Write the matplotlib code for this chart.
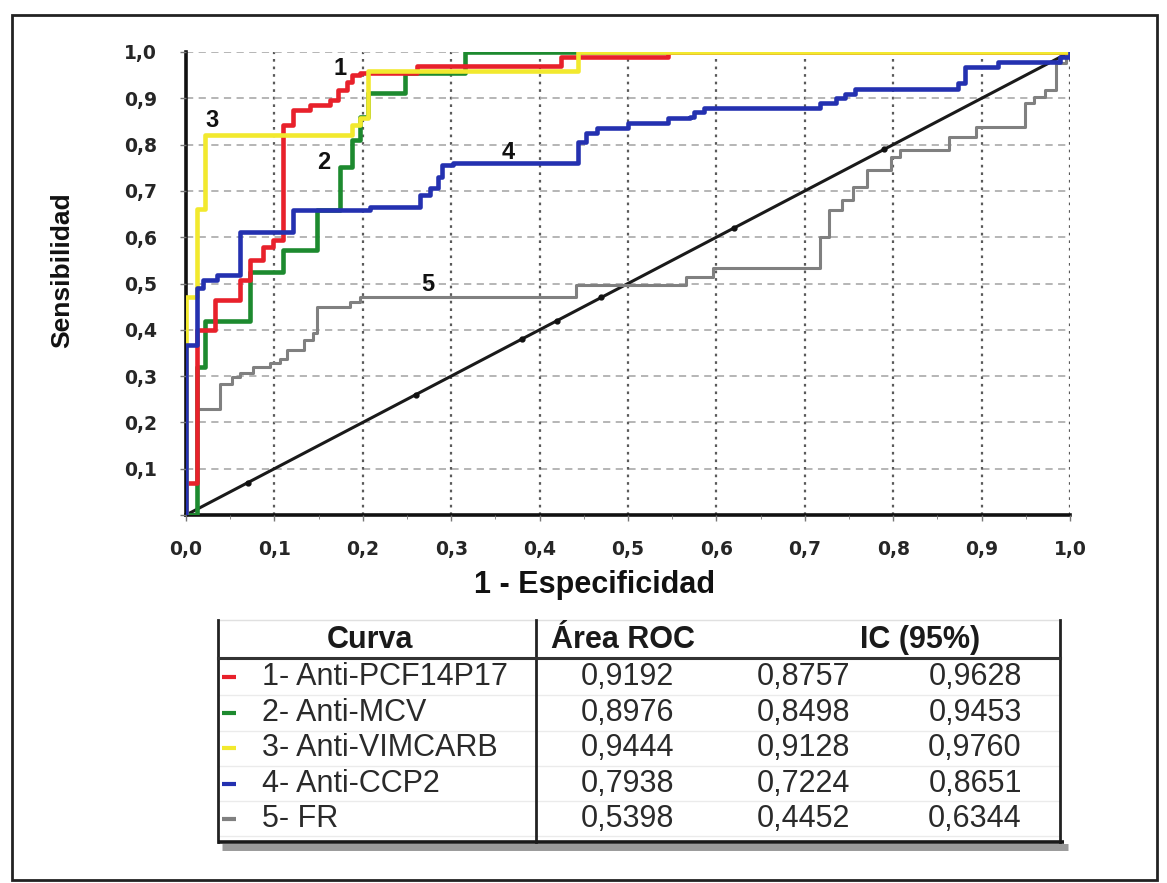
import numpy as np
import matplotlib
matplotlib.use("Agg")
import matplotlib.pyplot as plt
from matplotlib.patches import Rectangle

# ====================== DATA ======================
# ROC curves as step corners: each point = (x where the horizontal run ends, level)
red_x = [0, 0.012, 0.033, 0.061, 0.072, 0.087, 0.098, 0.110, 0.121, 0.140, 0.163, 0.172,
         0.182, 0.188, 0.197, 0.261, 0.424, 0.545, 1.0]
red_y = [0, 0.07, 0.40, 0.464, 0.507, 0.551, 0.579, 0.594, 0.842, 0.875, 0.885, 0.896,
         0.918, 0.935, 0.95, 0.955, 0.97, 0.989, 1.0]

green_x = [0, 0.012, 0.022, 0.072, 0.110, 0.148, 0.174, 0.188, 0.197, 0.206, 0.248, 0.316, 1.0]
green_y = [0, 0.0, 0.32, 0.42, 0.525, 0.572, 0.658, 0.752, 0.81, 0.86, 0.911, 0.955, 1.0]

yellow_x = [0, 0.012, 0.021, 0.188, 0.197, 0.206, 0.443, 1.0]
yellow_y = [0, 0.47, 0.66, 0.82, 0.842, 0.857, 0.96, 1.0]

blue_x = [0, 0.012, 0.019, 0.035, 0.061, 0.121, 0.208, 0.265, 0.276, 0.285, 0.290, 0.302,
          0.444, 0.452, 0.465, 0.500, 0.545, 0.570, 0.575, 0.586, 0.717, 0.735, 0.745,
          0.757, 0.873, 0.881, 0.918, 0.989, 1.0, 1.0]
blue_y = [0, 0.367, 0.49, 0.508, 0.518, 0.611, 0.659, 0.665, 0.691, 0.706, 0.73, 0.756,
          0.76, 0.806, 0.825, 0.835, 0.846, 0.857, 0.860, 0.871, 0.878, 0.889, 0.90,
          0.91, 0.92, 0.932, 0.968, 0.979, 0.99, 1.0]

gray_x = [0, 0.012, 0.038, 0.052, 0.061, 0.076, 0.095, 0.106, 0.114, 0.133, 0.144, 0.148,
          0.186, 0.197, 0.441, 0.566, 0.596, 0.717, 0.727, 0.742, 0.755, 0.770, 0.797,
          0.808, 0.863, 0.894, 0.949, 0.959, 0.972, 0.984, 0.995, 1.0]
gray_y = [0, 0.0, 0.23, 0.284, 0.299, 0.307, 0.32, 0.328, 0.338, 0.356, 0.378, 0.393,
          0.449, 0.46, 0.471, 0.497, 0.514, 0.533, 0.601, 0.659, 0.68, 0.709, 0.745,
          0.774, 0.788, 0.817, 0.839, 0.889, 0.903, 0.918, 0.976, 1.0]

diag = [0, 1]
diag_dots = [0.07, 0.26, 0.38, 0.42, 0.47, 0.62, 0.79]

# curve number labels (x, y)
label_txt = ["1", "2", "3", "4", "5"]
label_x = [0.174, 0.156, 0.029, 0.364, 0.273]
label_y = [0.965, 0.762, 0.853, 0.784, 0.497]

ticks = [0.0, 0.1, 0.2, 0.3, 0.4, 0.5, 0.6, 0.7, 0.8, 0.9, 1.0]
tick_labels = ["0,0", "0,1", "0,2", "0,3", "0,4", "0,5", "0,6", "0,7", "0,8", "0,9", "1,0"]
ytick_labels = ["", "0,1", "0,2", "0,3", "0,4", "0,5", "0,6", "0,7", "0,8", "0,9", "1,0"]

# table
curve_names = ["1- Anti-PCF14P17", "2- Anti-MCV", "3- Anti-VIMCARB", "4- Anti-CCP2", "5- FR"]
area_roc = ["0,9192", "0,8976", "0,9444", "0,7938", "0,5398"]
ic_low = ["0,8757", "0,8498", "0,9128", "0,7224", "0,4452"]
ic_high = ["0,9628", "0,9453", "0,9760", "0,8651", "0,6344"]
colors = ["#e8212b", "#1d8a2f", "#f2e92e", "#2431b0", "#808080"]

# ====================== FIGURE ======================
W, H = 1167, 883
fig = plt.figure(figsize=(W / 100, H / 100), dpi=100)
fig.patch.set_facecolor("white")

# outer frame
fig.patches.append(Rectangle((12 / W, 1 - 880 / H), (1157 - 12) / W, (880 - 15) / H,
                             transform=fig.transFigure, fill=False,
                             edgecolor="#222222", lw=2))

ax = fig.add_axes([186 / W, 1 - 515 / H, (1070 - 186) / W, (515 - 52) / H])
ax.set_xlim(0, 1)
ax.set_ylim(0, 1)

# grid
for t in ticks[1:]:
    ax.axhline(t, color="#b0b0b0", lw=1.3, ls=(0, (4, 3)), zorder=1)
    ax.axvline(t, color="#5a5a5a", lw=1.6, ls=(0, (1.2, 2.2)), zorder=1)

# diagonal reference line
ax.plot(diag, diag, color="#1a1a1a", lw=2.2, zorder=2)
ax.plot(diag_dots, diag_dots, ls="none", marker="o", ms=3.5, color="#111111", zorder=2)

ax.plot(gray_x, gray_y, drawstyle="steps-pre", color=colors[4], lw=2.2, zorder=3)
ax.plot(green_x, green_y, drawstyle="steps-pre", color=colors[1], lw=3.3, zorder=4)
ax.plot(red_x, red_y, drawstyle="steps-pre", color=colors[0], lw=3.3, zorder=5)
ax.plot(yellow_x, yellow_y, drawstyle="steps-pre", color=colors[2], lw=3.3, zorder=6)
ax.plot(blue_x, blue_y, drawstyle="steps-pre", color=colors[3], lw=3.3, zorder=7)

for t, x, y in zip(label_txt, label_x, label_y):
    ax.text(x, y, t, fontsize=17, fontweight="bold", family="Liberation Sans",
            color="#111111", ha="center", va="center", zorder=8)

# spines
for s in ["top", "right"]:
    ax.spines[s].set_visible(False)
for s in ["left", "bottom"]:
    ax.spines[s].set_linewidth(2.6)
    ax.spines[s].set_color("#111111")
    ax.spines[s].set_zorder(1.5)

ax.set_xticks(ticks)
ax.set_xticklabels(tick_labels)
ax.set_yticks(ticks)
ax.set_yticklabels(ytick_labels)
ax.set_xticks(np.arange(0.05, 1.0, 0.1), minor=True)
ax.tick_params(axis="both", which="major", length=4, width=1, color="#777777",
               labelsize=13.5, labelcolor="#262626")
ax.tick_params(axis="x", which="major", pad=14)
ax.tick_params(axis="y", which="major", pad=17)
ax.tick_params(axis="x", which="minor", length=3, color="#777777")
for lab in ax.get_xticklabels() + ax.get_yticklabels():
    lab.set_fontweight("bold")
    lab.set_family("DejaVu Sans")

ax.set_xlabel("1 - Especificidad", fontsize=22, fontweight="bold",
              family="Liberation Sans", color="#111111")
ax.xaxis.set_label_coords((595 - 186) / 884, (515 - 585) / 463)
ax.xaxis.label.set_va("center")
ax.set_ylabel("Sensibilidad", fontsize=19, fontweight="bold",
              family="Liberation Sans", color="#111111")
ax.yaxis.set_label_coords((62 - 186) / 884, (515 - 270) / 463)
ax.yaxis.label.set_va("center")

# ====================== TABLE ======================
tx0, tx1, ty0, ty1 = 200, 1080, 610, 860
tab = fig.add_axes([tx0 / W, 1 - ty1 / H, (tx1 - tx0) / W, (ty1 - ty0) / H])
tab.set_xlim(tx0, tx1)
tab.set_ylim(ty1, ty0)
tab.axis("off")

left, right, top, bottom = 218, 1060, 620, 842
col_div = 536
head_y = 640
head_line = 658
row_y = [677, 713, 748, 784, 819]

# faint row separators
for y in [695, 731, 766, 801, 836]:
    tab.plot([left, right], [y, y], color="#ebebeb", lw=1)
tab.plot([left, right], [top, top], color="#e0e0e0", lw=1)
tab.plot([left, left], [top, bottom], color="#222222", lw=2)
tab.plot([right, right], [top, bottom], color="#222222", lw=2)
tab.plot([col_div, col_div], [top, bottom], color="#222222", lw=2)
tab.plot([left, right], [head_line, head_line], color="#333333", lw=2.2)
# bottom edge with shadow
tab.plot([left + 4, right + 8], [bottom + 5, bottom + 5], color="#9a9a9a", lw=5,
         solid_capstyle="butt")
tab.plot([left, right + 4], [bottom, bottom], color="#1a1a1a", lw=2.6,
         solid_capstyle="butt")

tab.text(370, head_y, "Curva", fontsize=22, fontweight="bold", family="Liberation Sans",
         ha="center", va="center", color="#1a1a1a")
tab.text(623, head_y, "Área ROC", fontsize=22, fontweight="bold", family="Liberation Sans",
         ha="center", va="center", color="#1a1a1a")
tab.text(920, head_y, "IC (95%)", fontsize=22, fontweight="bold", family="Liberation Sans",
         ha="center", va="center", color="#1a1a1a")

for i, y in enumerate(row_y):
    tab.plot([222, 236], [y, y], color=colors[i], lw=3, solid_capstyle="butt")
    tab.text(262, y, curve_names[i], fontsize=22, family="Liberation Sans",
             ha="left", va="center", color="#2a2a2a")
    tab.text(627, y, area_roc[i], fontsize=22, family="Liberation Sans",
             ha="center", va="center", color="#2a2a2a")
    tab.text(803, y, ic_low[i], fontsize=22, family="Liberation Sans",
             ha="center", va="center", color="#2a2a2a")
    tab.text(975, y, ic_high[i], fontsize=22, family="Liberation Sans",
             ha="center", va="center", color="#2a2a2a")

fig.savefig("out.png", dpi=100)
